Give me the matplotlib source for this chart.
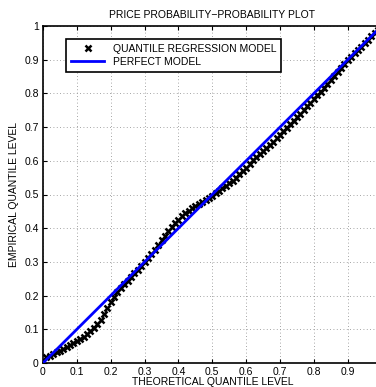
import numpy as np
import matplotlib
matplotlib.use("Agg")
import matplotlib.pyplot as plt

plt.rcParams['font.family'] = ['Liberation Sans', 'DejaVu Sans']

# theoretical quantile levels (0.01 .. 0.99)
theo = np.round(np.arange(1, 100) * 0.01, 2)
# empirical quantile levels
emp = [0.019, 0.022, 0.027, 0.032, 0.037, 0.041, 0.047, 0.052, 0.058, 0.065,
       0.071, 0.078, 0.086, 0.094, 0.105, 0.116, 0.127, 0.146, 0.163, 0.181,
       0.197, 0.210, 0.222, 0.233, 0.244, 0.255, 0.266, 0.277, 0.288, 0.300,
       0.312, 0.323, 0.335, 0.350, 0.364, 0.378, 0.392, 0.405, 0.415, 0.424,
       0.435, 0.444, 0.452, 0.460, 0.467, 0.473, 0.479, 0.485, 0.491, 0.497,
       0.504, 0.511, 0.518, 0.525, 0.533, 0.541, 0.550, 0.560, 0.570, 0.580,
       0.591, 0.601, 0.611, 0.621, 0.630, 0.639, 0.648, 0.657, 0.667, 0.677,
       0.688, 0.698, 0.709, 0.719, 0.730, 0.740, 0.751, 0.762, 0.772, 0.783,
       0.794, 0.805, 0.816, 0.827, 0.839, 0.851, 0.863, 0.875, 0.887, 0.898,
       0.909, 0.919, 0.929, 0.939, 0.949, 0.959, 0.969, 0.979, 0.989]
perfect = [0.0, 1.0]

W, H = 376, 387
fig = plt.figure(figsize=(W / 100, H / 100), dpi=100)
ax = fig.add_axes([43 / W, 24 / H, 338.6 / W, 337 / H])

ax.plot(theo, emp, 'x', color='k', ms=4.5, mew=1.8,
        label='QUANTILE REGRESSION MODEL', zorder=3)
ax.plot(perfect, perfect, '-', color='#0000ff', lw=2,
        label='PERFECT MODEL', zorder=4)

ax.set_xlim(0, 1)
ax.set_ylim(0, 1)
ticks = np.round(np.arange(0, 1.01, 0.1), 1)
ax.set_xticks(ticks)
ax.set_yticks(ticks)
# the x label "1" sits outside the cropped picture
ax.set_xticklabels(['0'] + [f'{t:g}' for t in ticks[1:-1]] + [''])
ax.set_yticklabels(['0'] + [f'{t:g}' for t in ticks[1:]])
ax.tick_params(direction='in', length=3, width=0.8, labelsize=7.5,
               top=True, right=True, pad=3)
ax.grid(True, linestyle=(0, (1, 3)), color='#888888', lw=0.6)
for s in ax.spines.values():
    s.set_linewidth(1.2)

ax.set_title('PRICE PROBABILITY\u2212PROBABILITY PLOT', fontsize=7.5, pad=6)
ax.set_xlabel('THEORETICAL QUANTILE LEVEL', fontsize=7.5, labelpad=0)
ax.set_ylabel('EMPIRICAL QUANTILE LEVEL', fontsize=7.5, labelpad=4)

leg = ax.legend(loc='upper left', bbox_to_anchor=(0.052, 0.978), fontsize=7.5,
                frameon=True, fancybox=False, edgecolor='k', framealpha=1,
                handlelength=3.2, borderpad=0.5, labelspacing=0.3)
leg.get_frame().set_linewidth(1.2)

fig.savefig('out.png', dpi=100)
